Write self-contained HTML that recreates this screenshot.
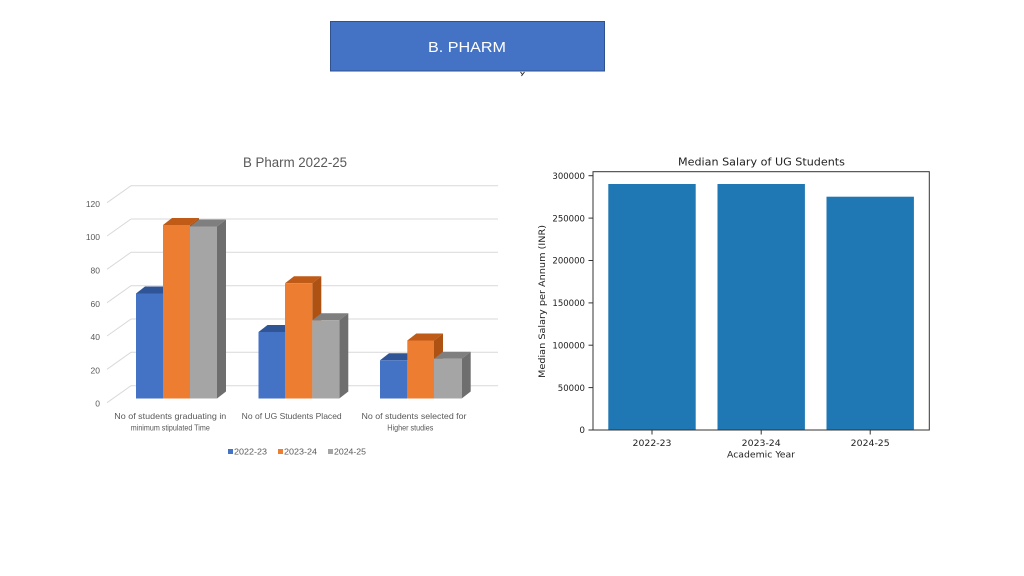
<!DOCTYPE html>
<html>
<head>
<meta charset="utf-8">
<style>
  html,body{margin:0;padding:0;background:#fff;}
  svg{display:block;}
</style>
</head>
<body>
<svg width="1024" height="576" viewBox="0 0 1024 576" xmlns="http://www.w3.org/2000/svg">
  <rect x="0" y="0" width="1024" height="576" fill="#ffffff"/>

  <!-- Header box -->
  <rect x="330.5" y="21.5" width="274" height="49.5" fill="#4472C4" stroke="#2F528F" stroke-width="1"/>
  <text x="467" y="52" font-family="Liberation Sans, sans-serif" font-size="15" fill="#ffffff" text-anchor="middle" textLength="78" lengthAdjust="spacingAndGlyphs">B. PHARM</text>
  <path d="M520.5 72 L522.5 74.5 L524.5 72 M522.5 74.5 L521.5 76" stroke="#222" stroke-width="0.9" fill="none"/>

  <!-- LEFT CHART -->
  <text x="295" y="167" font-family="Liberation Sans, sans-serif" font-size="13.5" fill="#595959" text-anchor="middle" textLength="104" lengthAdjust="spacingAndGlyphs">B Pharm 2022-25</text>

  <g stroke="#D9D9D9" stroke-width="1" fill="none">
    <!-- back wall gridlines -->
    <line x1="131" y1="185.7" x2="498" y2="185.7"/>
    <line x1="131" y1="219" x2="498" y2="219"/>
    <line x1="131" y1="252.3" x2="498" y2="252.3"/>
    <line x1="131" y1="285.7" x2="498" y2="285.7"/>
    <line x1="131" y1="319" x2="498" y2="319"/>
    <line x1="131" y1="352.3" x2="498" y2="352.3"/>
    <line x1="131" y1="385.7" x2="498" y2="385.7"/>
    <!-- side wall diagonals -->
    <line x1="107" y1="202.7" x2="131" y2="185.7"/>
    <line x1="107" y1="236" x2="131" y2="219"/>
    <line x1="107" y1="269.3" x2="131" y2="252.3"/>
    <line x1="107" y1="302.7" x2="131" y2="285.7"/>
    <line x1="107" y1="336" x2="131" y2="319"/>
    <line x1="107" y1="369.3" x2="131" y2="352.3"/>
    <line x1="107" y1="402.7" x2="131" y2="385.7"/>
  </g>

  <g font-family="Liberation Sans, sans-serif" font-size="8.5" fill="#595959" text-anchor="end">
    <text x="100" y="207">120</text>
    <text x="100" y="240">100</text>
    <text x="100" y="273.5">80</text>
    <text x="100" y="307">60</text>
    <text x="100" y="340">40</text>
    <text x="100" y="373.5">20</text>
    <text x="100" y="406.5">0</text>
  </g>

  <!-- Bars: group 1 -->
  <g>
    <!-- blue -->
    <polygon points="136,293.5 145,286.5 172,286.5 163,293.5" fill="#2F5597"/>
    <polygon points="163,293.5 172,286.5 172,391.5 163,398.5" fill="#2F5597"/>
    <rect x="136" y="293.5" width="27" height="105" fill="#4472C4"/>
    <!-- orange -->
    <polygon points="163,225 172,218 199,218 190,225" fill="#BF5A17"/>
    <polygon points="190,225 199,218 199,391.5 190,398.5" fill="#AE5214"/>
    <rect x="163" y="225" width="27" height="173.5" fill="#ED7D31"/>
    <!-- gray -->
    <polygon points="190,226.5 199,219.5 226,219.5 217,226.5" fill="#7F7F7F"/>
    <polygon points="217,226.5 226,219.5 226,391.5 217,398.5" fill="#6E6E6E"/>
    <rect x="190" y="226.5" width="27" height="172" fill="#A5A5A5"/>
  </g>

  <!-- Bars: group 2 -->
  <g>
    <polygon points="258.5,332 267.5,325 294,325 285,332" fill="#2F5597"/>
    <polygon points="285,332 294,325 294,391.5 285,398.5" fill="#2F5597"/>
    <rect x="258.5" y="332" width="26.5" height="66.5" fill="#4472C4"/>
    <polygon points="285,283.3 294,276.3 321.3,276.3 312.3,283.3" fill="#BF5A17"/>
    <polygon points="312.3,283.3 321.3,276.3 321.3,391.5 312.3,398.5" fill="#AE5214"/>
    <rect x="285" y="283.3" width="27.3" height="115.2" fill="#ED7D31"/>
    <polygon points="312.3,320.3 321.3,313.3 348.3,313.3 339.3,320.3" fill="#7F7F7F"/>
    <polygon points="339.3,320.3 348.3,313.3 348.3,391.5 339.3,398.5" fill="#6E6E6E"/>
    <rect x="312.3" y="320.3" width="27" height="78.2" fill="#A5A5A5"/>
  </g>

  <!-- Bars: group 3 -->
  <g>
    <polygon points="380,360.3 389,353.3 416.3,353.3 407.3,360.3" fill="#2F5597"/>
    <polygon points="407.3,360.3 416.3,353.3 416.3,391.5 407.3,398.5" fill="#2F5597"/>
    <rect x="380" y="360.3" width="27.3" height="38.2" fill="#4472C4"/>
    <polygon points="407.3,340.5 416.3,333.5 443,333.5 434,340.5" fill="#BF5A17"/>
    <polygon points="434,340.5 443,333.5 443,391.5 434,398.5" fill="#AE5214"/>
    <rect x="407.3" y="340.5" width="26.7" height="58" fill="#ED7D31"/>
    <polygon points="434,358.7 443,351.7 470.7,351.7 461.7,358.7" fill="#7F7F7F"/>
    <polygon points="461.7,358.7 470.7,351.7 470.7,391.5 461.7,398.5" fill="#6E6E6E"/>
    <rect x="434" y="358.7" width="27.7" height="39.8" fill="#A5A5A5"/>
  </g>

  <!-- Category labels -->
  <g font-family="Liberation Sans, sans-serif" font-size="8.5" fill="#595959" text-anchor="middle">
    <text x="170.3" y="419" textLength="112" lengthAdjust="spacingAndGlyphs">No of students graduating in</text>
    <text x="170.3" y="430.5" textLength="79" lengthAdjust="spacingAndGlyphs">minimum stipulated Time</text>
    <text x="291.7" y="419" textLength="100" lengthAdjust="spacingAndGlyphs">No of UG Students Placed</text>
    <text x="414" y="419" textLength="105" lengthAdjust="spacingAndGlyphs">No of students selected for</text>
    <text x="410.3" y="430.5" textLength="46" lengthAdjust="spacingAndGlyphs">Higher studies</text>
  </g>

  <!-- Legend -->
  <rect x="228" y="449" width="5" height="5" fill="#4472C4"/>
  <rect x="278" y="449" width="5" height="5" fill="#ED7D31"/>
  <rect x="328" y="449" width="5" height="5" fill="#A5A5A5"/>
  <g font-family="Liberation Sans, sans-serif" font-size="8.5" fill="#595959">
    <text x="234" y="454.5" textLength="33" lengthAdjust="spacingAndGlyphs">2022-23</text>
    <text x="284" y="454.5" textLength="33" lengthAdjust="spacingAndGlyphs">2023-24</text>
    <text x="334" y="454.5" textLength="32" lengthAdjust="spacingAndGlyphs">2024-25</text>
  </g>

  <!-- RIGHT CHART (matplotlib style) -->
  <text x="761.5" y="165.5" font-family="DejaVu Sans, sans-serif" font-size="11" fill="#222" text-anchor="middle" textLength="167" lengthAdjust="spacingAndGlyphs">Median Salary of UG Students</text>

  <!-- bars -->
  <rect x="608.3" y="184" width="87.4" height="246" fill="#1F77B4"/>
  <rect x="717.5" y="184" width="87.4" height="246" fill="#1F77B4"/>
  <rect x="826.5" y="196.7" width="87.4" height="233.3" fill="#1F77B4"/>

  <!-- axes frame -->
  <rect x="593" y="171.7" width="336.3" height="258.3" fill="none" stroke="#333" stroke-width="1"/>

  <!-- y ticks -->
  <g stroke="#333" stroke-width="1">
    <line x1="588.5" y1="430" x2="593" y2="430"/>
    <line x1="588.5" y1="387.6" x2="593" y2="387.6"/>
    <line x1="588.5" y1="345.2" x2="593" y2="345.2"/>
    <line x1="588.5" y1="302.9" x2="593" y2="302.9"/>
    <line x1="588.5" y1="260.5" x2="593" y2="260.5"/>
    <line x1="588.5" y1="218.1" x2="593" y2="218.1"/>
    <line x1="588.5" y1="175.7" x2="593" y2="175.7"/>
    <line x1="652" y1="430" x2="652" y2="434.5"/>
    <line x1="761.2" y1="430" x2="761.2" y2="434.5"/>
    <line x1="870.2" y1="430" x2="870.2" y2="434.5"/>
  </g>
  <g font-family="DejaVu Sans, sans-serif" font-size="8.8" fill="#222" text-anchor="end">
    <text x="585" y="433.2">0</text>
    <text x="585" y="390.8" textLength="27.2" lengthAdjust="spacingAndGlyphs">50000</text>
    <text x="585" y="348.4" textLength="32.6" lengthAdjust="spacingAndGlyphs">100000</text>
    <text x="585" y="306.1" textLength="32.6" lengthAdjust="spacingAndGlyphs">150000</text>
    <text x="585" y="263.7" textLength="32.6" lengthAdjust="spacingAndGlyphs">200000</text>
    <text x="585" y="221.3" textLength="32.6" lengthAdjust="spacingAndGlyphs">250000</text>
    <text x="585" y="178.9" textLength="32.6" lengthAdjust="spacingAndGlyphs">300000</text>
  </g>
  <g font-family="DejaVu Sans, sans-serif" font-size="9" fill="#222" text-anchor="middle">
    <text x="652" y="445.8" textLength="39" lengthAdjust="spacingAndGlyphs">2022-23</text>
    <text x="761.2" y="445.8" textLength="39" lengthAdjust="spacingAndGlyphs">2023-24</text>
    <text x="870.2" y="445.8" textLength="39" lengthAdjust="spacingAndGlyphs">2024-25</text>
    <text x="761" y="457.5" textLength="68" lengthAdjust="spacingAndGlyphs">Academic Year</text>
  </g>
  <text transform="translate(544.8,301.5) rotate(-90)" x="0" y="0" font-family="DejaVu Sans, sans-serif" font-size="9" fill="#222" text-anchor="middle" textLength="153" lengthAdjust="spacingAndGlyphs">Median Salary per Annum (INR)</text>
</svg>
</body>
</html>
